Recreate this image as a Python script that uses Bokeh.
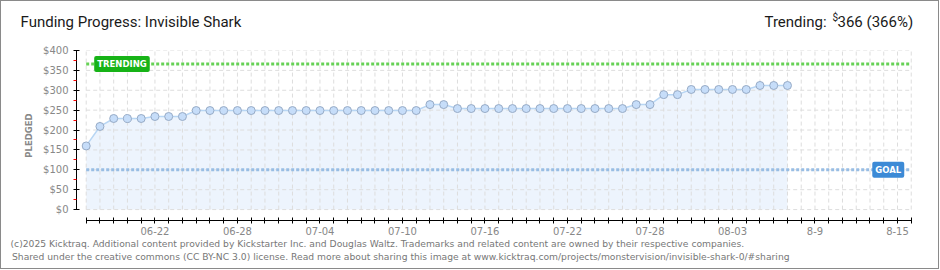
from bokeh.plotting import figure
from bokeh.layouts import column
from bokeh.models import FixedTicker, PrintfTickFormatter, Label
from bokeh.embed import file_html
from bokeh.resources import INLINE

# ---- data ----
days = list(range(52))  # day 0 = 06-17
pledged = ([160, 209] + [229] * 3 + [234] * 3 + [249] * 17 + [264] * 2 +
           [254] * 13 + [264] * 2 + [289] * 2 + [302] * 5 + [312] * 3)
goal = 100
trend = 366
axis_days = list(range(61))
label_days = [5, 11, 17, 23, 29, 35, 41, 47, 53, 59]
label_texts = ["06-22", "06-28", "07-04", "07-10", "07-16", "07-22",
               "07-28", "08-03", "8-9", "8-15"]
y_ticks = list(range(0, 401, 50))
y_minor = list(range(25, 400, 50))

title_text = "Funding Progress: Invisible Shark"
footer1 = ("(c)2025 Kicktraq. Additional content provided by Kickstarter Inc. and "
           "Douglas Waltz. Trademarks and related content are owned by their respective companies.")
footer2 = ("Shared under the creative commons (CC BY-NC 3.0) license. Read more about sharing "
           "this image at www.kicktraq.com/projects/monstervision/invisible-shark-0/#sharing")

W = 937
HEAD_H, MAIN_H, FOOT_H = 36, 200, 31


def text_panel(h):
    f = figure(width=W, height=h, output_backend="svg", toolbar_location=None,
               title=None, x_range=(0, W), y_range=(0, h),
               x_axis_location=None, y_axis_location=None,
               min_border=0, min_border_left=0, min_border_right=0,
               min_border_top=0, min_border_bottom=0, frame_align=False)
    f.outline_line_color = None
    f.xgrid.visible = False
    f.ygrid.visible = False
    f.background_fill_color = "white"
    f.border_fill_color = "white"
    return f


# ---- header ----
head = text_panel(HEAD_H)
head.add_layout(Label(x=19, y=16, text=title_text, text_font="Roboto",
                      text_font_size="15px", text_color="#1a1a1a",
                      text_baseline="middle", text_align="left"))
head.add_layout(Label(x=763, y=16, text="Trending:", text_font="Roboto",
                      text_font_size="15px", text_color="#1a1a1a",
                      text_baseline="middle", text_align="left"))
head.add_layout(Label(x=831, y=20, text="$", text_font="Roboto",
                      text_font_size="10px", text_color="#1a1a1a",
                      text_baseline="middle", text_align="left"))
head.add_layout(Label(x=836, y=16, text="%d (%d%%)" % (trend, round(trend / goal * 100)),
                      text_font="Roboto", text_font_size="15px",
                      text_color="#1a1a1a", text_baseline="middle", text_align="left"))

# ---- main chart ----
p = figure(width=W, height=MAIN_H, output_backend="svg", toolbar_location=None,
           title=None, x_range=(-0.705, 60.31), y_range=(-27.5, 400),
           min_border_left=75, min_border_right=23, min_border_top=13,
           min_border_bottom=16, frame_align=False)
p.outline_line_color = None
p.background_fill_color = "white"
p.border_fill_color = "white"
p.xgrid.visible = False
p.ygrid.visible = False

p.varea(x=days, y1=[0] * len(days), y2=pledged, fill_color="#edf4fd")

p.segment(x0=axis_days, y0=[y_ticks[0]] * len(axis_days), x1=axis_days,
          y1=[y_ticks[-1]] * len(axis_days), line_color="#dddddd",
          line_width=1, line_dash="4 3")
p.segment(x0=[axis_days[0]] * len(y_ticks), y0=y_ticks,
          x1=[axis_days[-1]] * len(y_ticks), y1=y_ticks,
          line_color="#dddddd", line_width=1, line_dash="4 3")

p.line(x=[axis_days[0], axis_days[-1]], y=[trend, trend], line_color="#66d155",
       line_width=3, line_dash="3 2")
p.line(x=[axis_days[0], axis_days[-1]], y=[goal, goal], line_color="#98bde4",
       line_width=3, line_dash="3 2")

p.line(x=days, y=pledged, line_color="#b8d6f4", line_width=1.5)
p.scatter(x=days, y=pledged, marker="circle", size=8, fill_color="#c6ddf9",
          line_color="#97abc6", line_width=1)

p.add_layout(Label(x=axis_days[0], y=trend, x_offset=8, text="TRENDING",
                   text_color="white", text_font="DejaVu Sans",
                   text_font_style="bold", text_font_size="8.5px",
                   text_baseline="middle", text_align="left",
                   background_fill_color="#17b317", padding=3, border_radius=2))
p.add_layout(Label(x=axis_days[-1], y=goal, x_offset=-7, text="GOAL",
                   text_color="white", text_font="DejaVu Sans",
                   text_font_style="bold", text_font_size="8.5px",
                   text_baseline="middle", text_align="right",
                   background_fill_color="#3c8ad6", padding=3, border_radius=2))

xa = p.xaxis[0]
xa.ticker = FixedTicker(ticks=axis_days, minor_ticks=[])
xa.major_label_overrides = {d: "" for d in axis_days}
xa.major_label_overrides.update({d: t for d, t in zip(label_days, label_texts)})
xa.bounds = (axis_days[0], axis_days[-1])
xa.major_tick_in = 3
xa.major_tick_out = 3
xa.axis_line_color = "black"
xa.major_tick_line_color = "black"
xa.major_label_text_font = "DejaVu Sans"
xa.major_label_text_font_size = "10px"
xa.major_label_text_color = "#888888"
xa.major_label_standoff = 3

ya = p.yaxis[0]
ya.ticker = FixedTicker(ticks=y_ticks, minor_ticks=y_minor)
ya.formatter = PrintfTickFormatter(format="$%d")
ya.bounds = (y_ticks[0], y_ticks[-1])
ya.major_tick_in = 3
ya.major_tick_out = 3
ya.minor_tick_in = 0
ya.minor_tick_out = 3
ya.minor_tick_line_color = "red"
ya.axis_line_color = "black"
ya.major_tick_line_color = "black"
ya.major_label_text_font = "DejaVu Sans"
ya.major_label_text_font_size = "10px"
ya.major_label_text_color = "#888888"
ya.major_label_standoff = 5
ya.axis_label = "PLEDGED"
ya.axis_label_text_font = "DejaVu Sans"
ya.axis_label_text_font_style = "bold"
ya.axis_label_text_font_size = "8.5px"
ya.axis_label_text_color = "#888888"
ya.axis_label_standoff = 6

# ---- footer ----
foot = text_panel(FOOT_H)
foot.add_layout(Label(x=9, y=25, text=footer1, text_font="DejaVu Sans",
                      text_font_size="9.2px", text_color="#777777",
                      text_baseline="middle", text_align="left"))
foot.add_layout(Label(x=10.5, y=12, text=footer2, text_font="DejaVu Sans",
                      text_font_size="9.2px", text_color="#777777",
                      text_baseline="middle", text_align="left"))

layout = column(head, p, foot, width=939, height=269, spacing=0)
layout.styles = {"border": "1px solid #8a8a8a", "box-sizing": "border-box"}

open("out.html", "w").write(file_html(layout, INLINE))
